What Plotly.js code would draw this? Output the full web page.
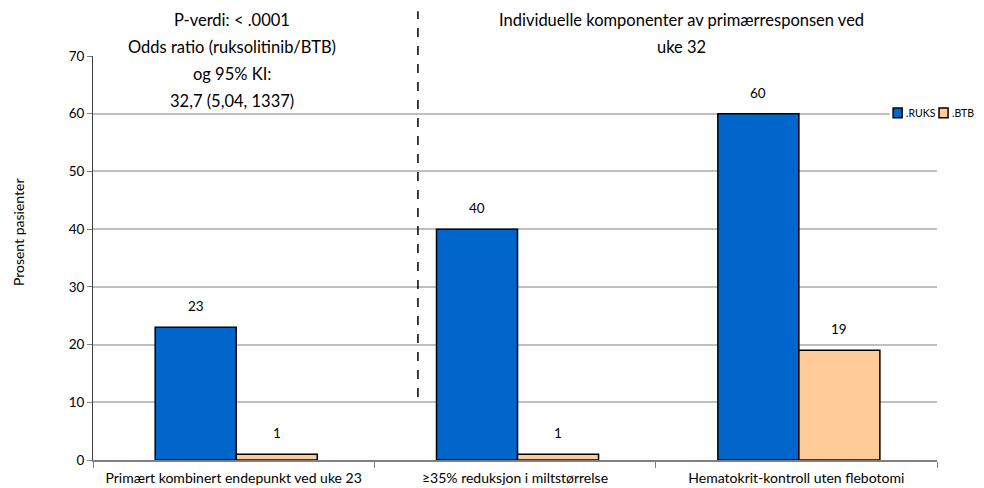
<!DOCTYPE html>
<html><head><meta charset="utf-8">
<script src="https://cdn.plot.ly/plotly-3.0.1.min.js"></script>
<style>html,body{margin:0;padding:0;background:#fff}#chart{width:984px;height:488px}</style>
</head><body><div id="chart"></div>
<script>
const categories = ["Primært kombinert endepunkt ved uke 23", "≥35% reduksjon i miltstørrelse", "Hematokrit-kontroll uten flebotomi"];
const ruks = [23, 40, 60];
const btb = [1, 1, 19];
const seriesNames = [".RUKS", ".BTB"];
const seriesColors = ['#0066CC', '#FFCC99'];
const leftNoteLines = ["P-verdi: < .0001", "Odds ratio (ruksolitinib/BTB)", "og 95% KI:", "32,7 (5,04, 1337)"];
const rightNoteLines = ["Individuelle komponenter av primærresponsen ved", "uke 32"];
const yTitle = "Prosent pasienter";
const font = "Lato, 'Open Sans', sans-serif";

const barWidth = 0.288;
const barOffsets = [-0.279, 0.009];
const traces = [ruks, btb].map((s, i) => ({
  type:'bar', name:seriesNames[i], x:categories, y:s, showlegend:false,
  width:barWidth, offset:barOffsets[i],
  marker:{color:seriesColors[i], line:{color:'#000', width:1.5}}
}));
const ann = [];
[ruks, btb].forEach((s, si) => s.forEach((v, i) => ann.push({
  x: categories[i], y: v, xref:'x', yref:'y', text: String(v), showarrow:false,
  xshift: si === 0 ? -38 : 43, yshift: 21, font:{size:13.5, color:'#000', family:font}
})));
const lineY = [1.089, 1.022, 0.955, 0.889];
leftNoteLines.forEach((t, i) => ann.push({x:0.165, y:lineY[i], xref:'paper', yref:'paper', text:t, showarrow:false,
  xanchor:'center', yanchor:'middle', font:{size:16.5, color:'#000', family:font}}));
rightNoteLines.forEach((t, i) => ann.push({x:0.697, y:lineY[i], xref:'paper', yref:'paper', text:t, showarrow:false,
  xanchor:'center', yanchor:'middle', font:{size:16.5, color:'#000', family:font}}));
ann.push({x:-0.0889, y:0.564, xref:'paper', yref:'paper', text:yTitle, showarrow:false, textangle:-90,
  xanchor:'center', yanchor:'middle', font:{size:14, color:'#000', family:font}});
// custom compact legend
const legX = [0.948, 1.0024];
const legTextX = [0.961, 1.015];
const shapes = [
  {type:'line', xref:'paper', yref:'paper', x0:0.385, x1:0.385, y0:0.156, y1:1.111,
    line:{color:'#000', width:1.5, dash:'dash'}},
  {type:'rect', xref:'paper', yref:'paper', x0:0.944, x1:1.0, y0:0.835, y1:0.883,
    fillcolor:'#fff', line:{width:0}, layer:'above'}
];
seriesNames.forEach((n, i) => {
  shapes.push({type:'rect', xref:'paper', yref:'paper', x0:legX[i], x1:legX[i] + 0.0107, y0:0.847, y1:0.871,
    fillcolor:seriesColors[i], line:{color:'#000', width:1.5}});
  ann.push({x:legTextX[i], y:0.859, xref:'paper', yref:'paper', text:n, showarrow:false, xanchor:'left', yanchor:'middle',
    font:{size:10.5, color:'#000', family:font}});
});

const layout = {
  width:984, height:488,
  margin:{l:93, r:47, t:56, b:28},
  paper_bgcolor:'#fff', plot_bgcolor:'#fff',
  font:{family:font, color:'#000', size:12},
  barmode:'group', bargap:0.42, bargroupgap:0,
  showlegend:false,
  xaxis:{type:'category', tickson:'boundaries', ticks:'outside', ticklen:6, tickcolor:'#808080',
    showline:true, linecolor:'#808080', linewidth:1.5, showgrid:false, tickfont:{size:14}, ticklabelstandoff:5},
  yaxis:{range:[0,70], dtick:10, ticks:'outside', ticklen:5, tickcolor:'#808080', showline:true, linecolor:'#404040',
    linewidth:1, gridcolor:'#BFBFBF', gridwidth:2, zeroline:false, tickfont:{size:13.5}, layer:'above traces'},
  annotations: ann,
  shapes: shapes
};
Plotly.newPlot('chart', traces, layout, {displayModeBar:false, staticPlot:true});
</script></body></html>
